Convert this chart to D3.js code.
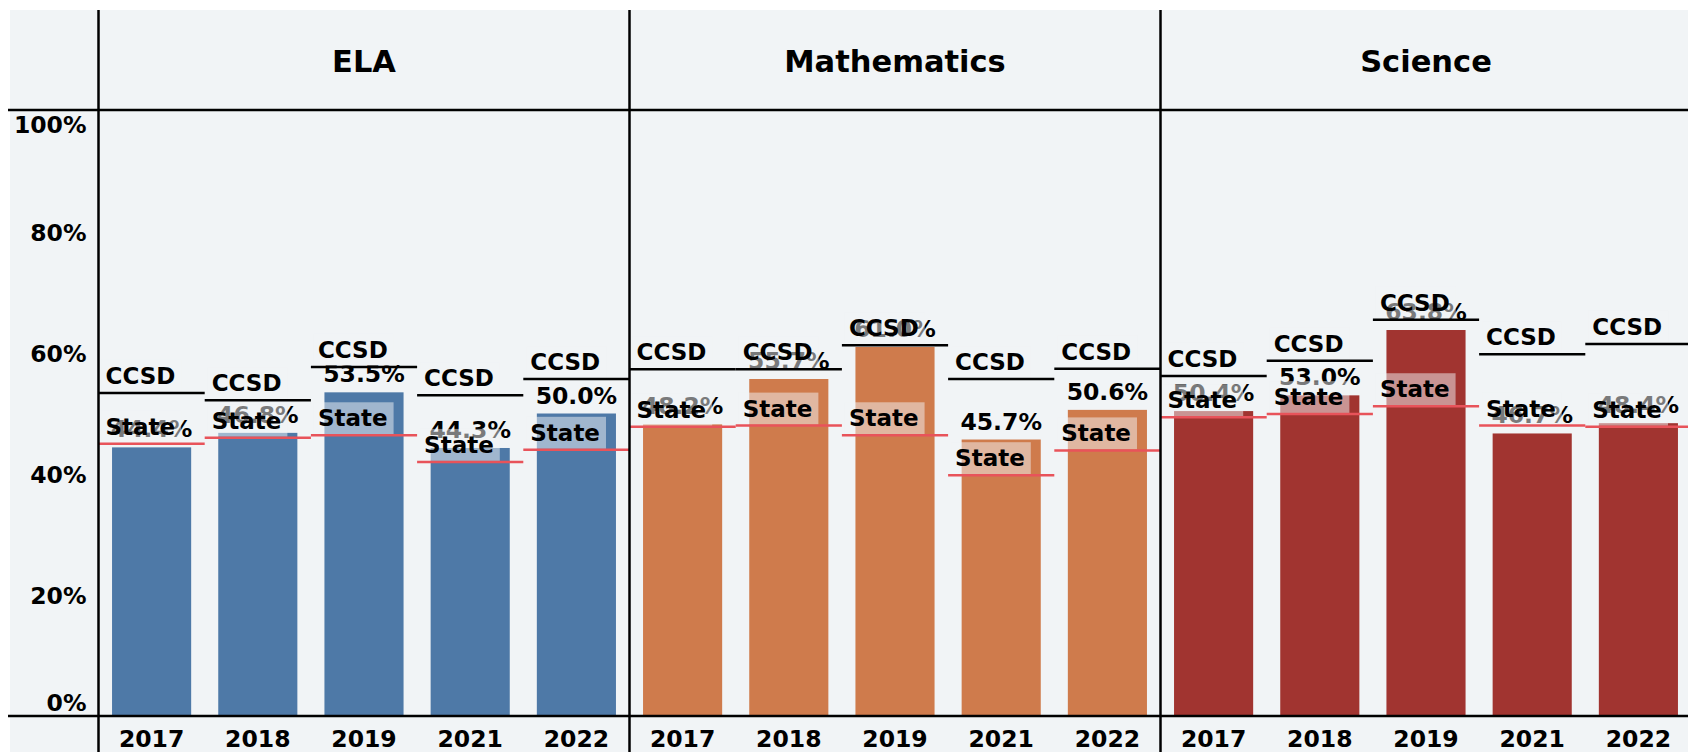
<!DOCTYPE html>
<html>
<head>
<meta charset="utf-8">
<script src="https://cdn.jsdelivr.net/npm/d3@7"></script>
<style>
  html, body { margin: 0; padding: 0; background: #ffffff; }
  svg { display: block; }
  text { font-family: "DejaVu Sans", sans-serif; font-weight: bold; }
</style>
</head>
<body>
<svg id="chart" width="1688" height="752"></svg>
<script>
// Proficiency rates by subject and year (percent)
const subjects = ["ELA", "Mathematics", "Science"];
const years = ["2017", "2018", "2019", "2021", "2022"];
const yTicks = [0, 20, 40, 60, 80, 100];

const elaValues     = [44.4, 46.8, 53.5, 44.3, 50.0];
const mathValues    = [48.2, 55.7, 61.0, 45.7, 50.6];
const scienceValues = [50.4, 53.0, 63.8, 46.7, 48.4];

// District (CCSD) reference levels
const elaCcsd     = [53.4, 52.2, 57.7, 53.0, 55.7];
const mathCcsd    = [57.3, 57.3, 61.3, 55.7, 57.4];
const scienceCcsd = [56.2, 58.7, 65.5, 59.8, 61.5];

// State reference levels
const elaState     = [45.0, 46.0, 46.4, 42.0, 44.0];
const mathState    = [47.8, 48.0, 46.4, 39.8, 43.9];
const scienceState = [49.4, 49.9, 51.2, 48.0, 47.8];

const subjectColors = ["#4e79a7", "#cf7b4c", "#a13430"];
const bgColor = "#f1f4f6";

const panels = subjects.map((s, i) => ({
  subject: s,
  color: subjectColors[i],
  values: [elaValues, mathValues, scienceValues][i],
  ccsd: [elaCcsd, mathCcsd, scienceCcsd][i],
  state: [elaState, mathState, scienceState][i]
}));

const svg = d3.select("#chart");
const W = 1688, H = 752;
const left = 98.5, panelW = 531, headerY = 110, baseY = 716;

const y = d3.scaleLinear().domain([0, 100]).range([baseY, 111]);
const panelX = d3.scaleBand().domain(subjects).range([left, left + panelW * subjects.length]);
const band = d3.scaleBand().domain(years).range([0, panelW]);

// background
svg.append("rect").attr("x", 10).attr("y", 10).attr("width", W - 10).attr("height", H - 10)
  .attr("fill", bgColor);

// y axis labels
const yAxis = d3.axisLeft(y).tickValues(yTicks).tickSize(0).tickPadding(0)
  .tickFormat(d => d + "%");
const yg = svg.append("g").attr("transform", `translate(${left - 12},0)`).call(yAxis);
yg.select(".domain").remove();
yg.selectAll("text")
  .attr("font-size", 23.5).attr("fill", "#000")
  .style("font-family", "DejaVu Sans").style("font-weight", "bold")
  .attr("dy", d => d === 100 ? "0.9em" : d === 0 ? "-0.25em" : "0.35em");

panels.forEach(p => {
  const g = svg.append("g").attr("transform", `translate(${panelX(p.subject)},0)`);

  // header
  g.append("text").attr("x", panelW / 2).attr("y", 72)
    .attr("text-anchor", "middle").attr("font-size", 30.5).attr("fill", "#000")
    .text(p.subject);

  const rows = years.map((yr, i) => ({
    year: yr, value: p.values[i], ccsd: p.ccsd[i], state: p.state[i]
  }));

  const bw = band.bandwidth();
  const barW = bw * 0.745;

  // bars
  g.selectAll("rect.bar").data(rows).join("rect").attr("class", "bar")
    .attr("x", d => band(d.year) + (bw - barW) / 2)
    .attr("width", barW)
    .attr("y", d => y(d.value))
    .attr("height", d => y(0) - y(d.value))
    .attr("fill", p.color);

  // value labels
  g.selectAll("text.val").data(rows).join("text").attr("class", "val")
    .attr("x", d => band(d.year) + bw / 2)
    .attr("y", d => y(d.value) - 10)
    .attr("text-anchor", "middle").attr("font-size", 23.5).attr("fill", "#000")
    .text(d => d.value.toFixed(1) + "%");

  // reference marks: label box, line, label
  const refs = [
    { key: "state", label: "State", line: "#e8535a" },
    { key: "ccsd", label: "CCSD", line: "#000000" }
  ];
  refs.forEach(r => {
    const rg = g.append("g");
    const txt = rg.selectAll("text").data(rows).join("text")
      .attr("x", d => band(d.year) + 7)
      .attr("y", d => y(d[r.key]) - 9)
      .attr("font-size", 23).attr("fill", "#000")
      .text(r.label);
    const boxes = rg.insert("g", "text");
    txt.each(function (d) {
      const len = this.getComputedTextLength();
      boxes.append("rect")
        .attr("x", band(d.year) + 3)
        .attr("y", y(d[r.key]) - 33)
        .attr("width", len + 10)
        .attr("height", 32)
        .attr("fill", bgColor).attr("fill-opacity", 0.5);
    });
    rg.insert("g", "text").selectAll("line").data(rows).join("line")
      .attr("x1", d => band(d.year))
      .attr("x2", d => band(d.year) + bw)
      .attr("y1", d => y(d[r.key]))
      .attr("y2", d => y(d[r.key]))
      .attr("stroke", r.line).attr("stroke-width", 2.5);
  });

  // year labels
  const xAxis = d3.axisBottom(band).tickSize(0).tickPadding(0);
  const xg = g.append("g").attr("transform", `translate(0,${baseY})`).call(xAxis);
  xg.select(".domain").remove();
  xg.selectAll("text").attr("y", 31).attr("dy", 0)
    .attr("font-size", 23.5).attr("fill", "#000")
    .style("font-family", "DejaVu Sans").style("font-weight", "bold");
});

// frame lines
svg.append("line").attr("x1", 8).attr("x2", W).attr("y1", headerY).attr("y2", headerY)
  .attr("stroke", "#000").attr("stroke-width", 2.5);
svg.append("line").attr("x1", 8).attr("x2", W).attr("y1", baseY).attr("y2", baseY)
  .attr("stroke", "#000").attr("stroke-width", 2.5);
[left, ...subjects.map(s => panelX(s) + panelW)].forEach(x => {
  svg.append("line").attr("x1", x).attr("x2", x).attr("y1", 10).attr("y2", H)
    .attr("stroke", "#000").attr("stroke-width", 2.5);
});
</script>
</body>
</html>
